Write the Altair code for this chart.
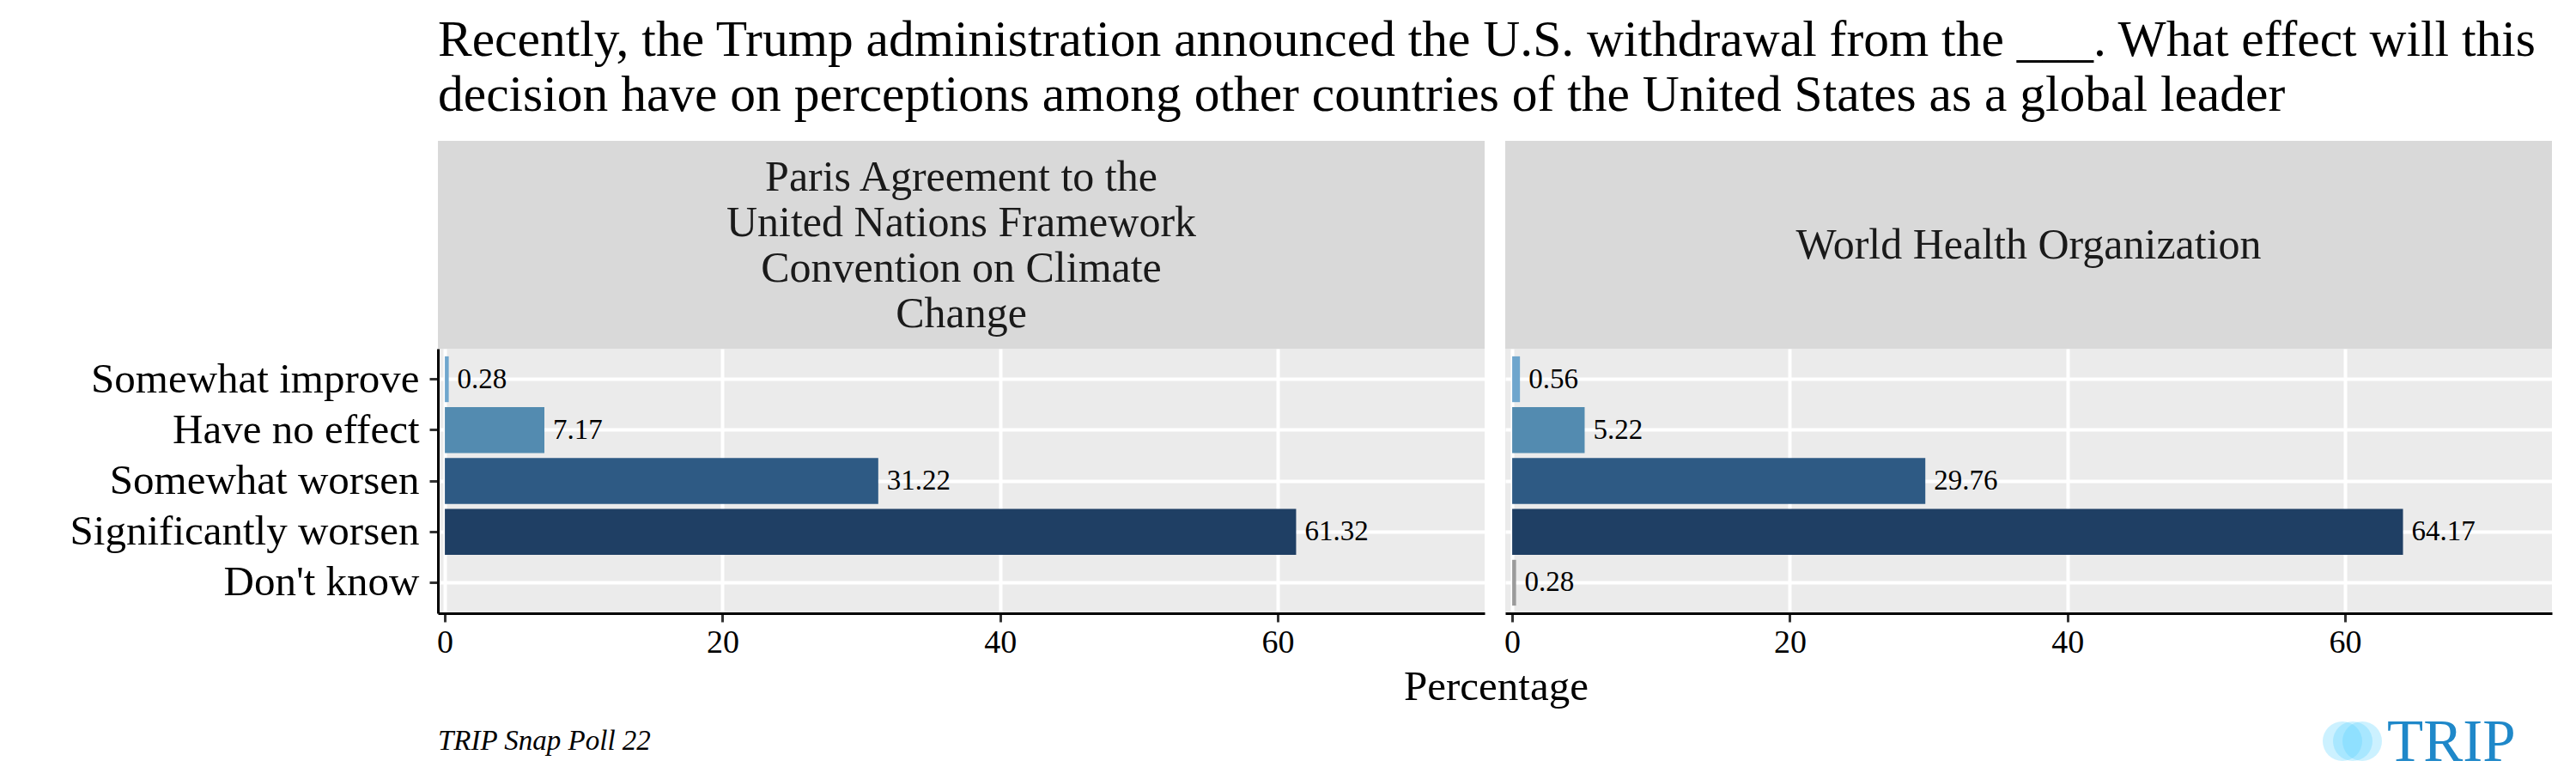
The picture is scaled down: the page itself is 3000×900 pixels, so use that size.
import altair as alt
import pandas as pd

FONT = "Liberation Serif"

# ---- data ----
responses = ["Somewhat improve", "Have no effect", "Somewhat worsen",
             "Significantly worsen", "Don't know"]
response_colors = ["#6fa6cd", "#538bb0", "#2e5a84", "#1f3f64", "#9b9b9b"]

paris_responses = ["Somewhat improve", "Have no effect", "Somewhat worsen",
                   "Significantly worsen"]
paris_values = [0.28, 7.17, 31.22, 61.32]

who_responses = ["Somewhat improve", "Have no effect", "Somewhat worsen",
                 "Significantly worsen", "Don't know"]
who_values = [0.56, 5.22, 29.76, 64.17, 0.28]

strip_paris = ["Paris Agreement to the", "United Nations Framework",
               "Convention on Climate", "Change"]
strip_who = ["World Health Organization"]

x_ticks = [0, 20, 40, 60]
x_domain = [-0.5, 74.9]
x_title = "Percentage"
caption = "TRIP Snap Poll 22"
logo_text = "TRIP"
title_lines = [
    "Recently, the Trump administration announced the U.S. withdrawal from the ___. What effect will this",
    "decision have on perceptions among other countries of the United States as a global leader",
]

W, H = 1219, 308
STRIP_H = 242
STRIP_LH = 53
one_row = alt.InlineData(values=[{"k": 0}])


def panel(responses_list, values, strip_lines, left):
    df = pd.DataFrame({"response": responses_list, "value": values})
    base = alt.Chart(df)
    yaxis = alt.Axis(
        title=None, labels=left, ticks=left, domain=left, grid=True,
        bandPosition=0.5, labelFontSize=49, labelPadding=12, labelLimit=0,
    )
    xaxis = alt.Axis(
        values=x_ticks, labelFontSize=38, labelPadding=5, grid=True,
        title=x_title if left else None,
        **({"titleX": 1232, "titleY": 100, "titleBaseline": "alphabetic",
            "titleAlign": "center", "titleFontSize": 49} if left else {}),
    )
    y = alt.Y("response:N", sort=responses,
              scale=alt.Scale(domain=responses, paddingInner=0.1, paddingOuter=0.15),
              axis=yaxis)
    x = alt.X("value:Q", scale=alt.Scale(domain=x_domain, nice=False, zero=False),
              axis=xaxis)
    bars = base.mark_bar().encode(
        x=x, x2=alt.datum(0), y=y,
        color=alt.Color("response:N", scale=alt.Scale(domain=responses, range=response_colors),
                        legend=None),
    )
    labels = base.mark_text(align="left", baseline="middle", dx=10, fontSize=33,
                            font=FONT, color="black").encode(
        x=alt.X("value:Q"), y=alt.Y("response:N", sort=responses),
        text=alt.Text("value:Q", format=".2f"),
    )
    strip_bg = alt.Chart(one_row).mark_rect(color="#d9d9d9").encode(
        x=alt.value(0), x2=alt.value("width"), y=alt.value(-STRIP_H), y2=alt.value(0)
    )
    first_baseline = -STRIP_H / 2 + 16 - (len(strip_lines) - 1) * STRIP_LH / 2
    strip_txt = alt.Chart(one_row).mark_text(
        text=strip_lines, fontSize=50, font=FONT, color="#1a1a1a", lineHeight=STRIP_LH,
        baseline="alphabetic", align="center",
    ).encode(x=alt.value(W / 2), y=alt.value(first_baseline))
    layers = [strip_bg, strip_txt, bars, labels]
    if left:
        cap = alt.Chart(one_row).mark_text(
            text=caption, fontSize=33, font=FONT, fontStyle="italic", color="black",
            align="left", baseline="alphabetic",
        ).encode(x=alt.value(0), y=alt.value(467))
        layers.append(cap)
    else:
        for cx in (975, 987, 998):
            layers.append(alt.Chart(one_row).mark_circle(
                color="#55d0ff", opacity=0.3, size=2116).encode(
                x=alt.value(cx), y=alt.value(457)))
        layers.append(alt.Chart(one_row).mark_text(
            text=logo_text, fontSize=69, font=FONT, color="#1f88c9",
            align="left", baseline="alphabetic").encode(
            x=alt.value(1027), y=alt.value(480)))
    return alt.layer(*layers).properties(width=W, height=H)


left_panel = panel(paris_responses, paris_values, strip_paris, True)
right_panel = panel(who_responses, who_values, strip_who, False)

chart = alt.hconcat(left_panel, right_panel, spacing=24, bounds="flush").properties(
    title=alt.TitleParams(
        text=title_lines, anchor="start", frame="group", fontSize=59.5, font=FONT,
        fontWeight="normal", color="black", lineHeight=64, baseline="bottom", offset=-36,
    ),
    padding={"left": 73, "top": 8, "right": 10, "bottom": 5},
).configure(font=FONT).configure_view(
    fill="#ebebeb", stroke=None
).configure_axis(
    gridColor="white", gridWidth=4, domainColor="black", domainWidth=3,
    tickColor="#333333", tickWidth=3, tickSize=10, labelColor="black",
    labelFont=FONT, titleFont=FONT, titleFontWeight="normal", titleColor="black",
)

chart.save("out.html", embed_options={"renderer": "svg", "actions": False})
